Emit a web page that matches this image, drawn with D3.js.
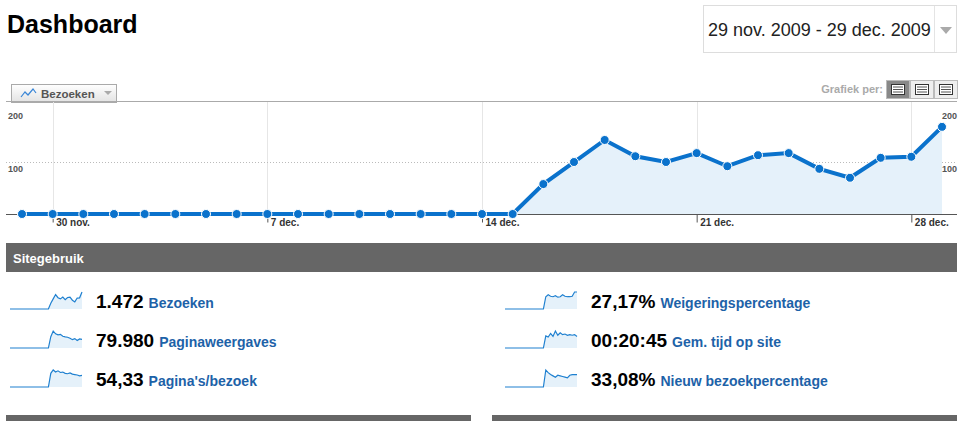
<!DOCTYPE html>
<html>
<head>
<meta charset="utf-8">
<script src="https://cdn.jsdelivr.net/npm/d3@7"></script>
<style>
  body { margin: 0; background: #fff; font-family: Arial, "Liberation Sans", sans-serif; }
  svg { display: block; }
</style>
</head>
<body>
<svg id="chart" width="965" height="421"></svg>
<script>
// daily visits, 29 nov - 29 dec 2009
const days = d3.range(31).map((i) => new Date(2009, 10, 29 + i));
const visits = [0, 0, 0, 0, 0, 0, 0, 0, 0, 0, 0, 0, 0, 0, 0, 0, 0,
  57, 99, 141, 110, 99, 116, 91, 112, 116, 86, 69, 107, 109, 166];
const yTicks = [100, 200];
const weekTicks = [new Date(2009, 10, 30), new Date(2009, 11, 7), new Date(2009, 11, 14),
  new Date(2009, 11, 21), new Date(2009, 11, 28)];
const monthNames = ["jan.", "feb.", "mrt.", "apr.", "mei", "jun.", "jul.", "aug.", "sep.", "okt.", "nov.", "dec."];

// sparkline series (relative shapes)
const sparkPageviews = [0,0,0,0,0,0,0,0,0,0,0,0,0,0,0,0,0, 6500,9800,8200,7600,7900,6800,6400,6200,5600,4800,5400,4300,5200,5000];
const sparkPerVisit = [0,0,0,0,0,0,0,0,0,0,0,0,0,0,0,0,0, 66,82,72,78,70,72,66,64,68,62,60,58,54,56];
const sparkBounce = [0,0,0,0,0,0,0,0,0,0,0,0,0,0,0,0,0, 26,30,27,26,28,25,26,30,27,26,26,27,36,36];
const sparkTime = [0,0,0,0,0,0,0,0,0,0,0,0,0,0,0,0,0, 20,18,24,19,28,21,25,22,23,21,22,21,22,19];
const sparkNew = [0,0,0,0,0,0,0,0,0,0,0,0,0,0,0,0,0, 52,44,38,34,30,36,34,32,30,28,36,38,38,38];

const metrics = [
  { value: "1.472", label: "Bezoeken", data: visits, col: 0 },
  { value: "79.980", label: "Paginaweergaves", data: sparkPageviews, col: 0 },
  { value: "54,33", label: "Pagina's/bezoek", data: sparkPerVisit, col: 0 },
  { value: "27,17%", label: "Weigeringspercentage", data: sparkBounce, col: 1 },
  { value: "00:20:45", label: "Gem. tijd op site", data: sparkTime, col: 1 },
  { value: "33,08%", label: "Nieuw bezoekpercentage", data: sparkNew, col: 1 },
];

const svg = d3.select("#chart");
const blue = "#0a72cc";

// title + date range
svg.append("text").attr("x", 7).attr("y", 33).attr("font-size", 25).attr("font-weight", "bold")
  .attr("fill", "#000").text("Dashboard");
svg.append("rect").attr("x", 703.5).attr("y", 5.5).attr("width", 253).attr("height", 47)
  .attr("fill", "#fff").attr("stroke", "#ddd");
svg.append("line").attr("x1", 934.5).attr("x2", 934.5).attr("y1", 6).attr("y2", 52).attr("stroke", "#e4e4e4");
svg.append("text").attr("x", 708).attr("y", 36).attr("font-size", 18).attr("fill", "#222")
  .text("29 nov. 2009 - 29 dec. 2009");
svg.append("path").attr("d", "M940,27 L952,27 L946,34 Z").attr("fill", "#aaa");

// tab
const tabGrad = svg.append("defs").append("linearGradient").attr("id", "tabg").attr("x1", 0).attr("x2", 0).attr("y1", 0).attr("y2", 1);
tabGrad.append("stop").attr("offset", 0).attr("stop-color", "#fff");
tabGrad.append("stop").attr("offset", 1).attr("stop-color", "#e2e2e2");
svg.append("rect").attr("x", 11.5).attr("y", 84.5).attr("width", 105).attr("height", 18)
  .attr("fill", "url(#tabg)").attr("stroke", "#aaa");
svg.append("path").attr("d", "M21,97 L25,92 L28,95 L33,89 L36,93").attr("fill", "none").attr("stroke", "#3a86d6").attr("stroke-width", 1.2);
svg.append("text").attr("x", 41).attr("y", 98).attr("font-size", 11.5).attr("font-weight", "bold").attr("fill", "#555").text("Bezoeken");
svg.append("path").attr("d", "M104,91 L112,91 L108,95 Z").attr("fill", "#aaa");

// grafiek per
svg.append("text").attr("x", 883).attr("y", 93).attr("text-anchor", "end").attr("font-size", 11)
  .attr("font-weight", "bold").attr("fill", "#aaa").text("Grafiek per:");
[0, 1, 2].forEach((i) => {
  const x0 = 886 + i * 24;
  svg.append("rect").attr("x", x0 + 0.5).attr("y", 80.5).attr("width", 23).attr("height", 18)
    .attr("fill", i === 0 ? "#888" : "#eee").attr("stroke", "#bbb");
  svg.append("rect").attr("x", x0 + 5.5).attr("y", 84.5).attr("width", 13).attr("height", 10)
    .attr("fill", "#fff").attr("stroke", "#333");
  d3.range(3).forEach((k) => svg.append("line").attr("x1", x0 + 7).attr("x2", x0 + 17)
    .attr("y1", 87 + k * 2.5).attr("y2", 87 + k * 2.5).attr("stroke", "#555"));
});

// main chart
const x = d3.scaleTime().domain([days[0], days[30]]).range([22, 942]);
const y = d3.scaleLinear().domain([0, 200]).range([214, 109]);

svg.append("line").attr("x1", 6).attr("x2", 957).attr("y1", 101.5).attr("y2", 101.5).attr("stroke", "#aaa");
svg.selectAll(".vgrid").data(weekTicks).join("line")
  .attr("x1", (d) => Math.round(x(d)) + 0.5).attr("x2", (d) => Math.round(x(d)) + 0.5)
  .attr("y1", 102).attr("y2", 214).attr("stroke", "#e6e6e6");
svg.selectAll(".hgrid").data([100]).join("line")
  .attr("x1", 6).attr("x2", 957).attr("y1", (d) => Math.round(y(d)) + 0.5).attr("y2", (d) => Math.round(y(d)) + 0.5)
  .attr("stroke", "#bbb").attr("stroke-dasharray", "1,2");

svg.append("path").datum(visits)
  .attr("d", d3.area().x((d, i) => x(days[i])).y0(y(0)).y1((d) => y(d)))
  .attr("fill", "#e5f1fa");

const xAxis = svg.append("g").attr("transform", `translate(0,${214.5})`)
  .call(d3.axisBottom(x).tickValues(weekTicks).tickSize(0).tickPadding(0)
    .tickFormat((d) => `${d.getDate()} ${monthNames[d.getMonth()]}`));
xAxis.select(".domain").remove();
xAxis.append("line").attr("x1", 6).attr("x2", 957).attr("stroke", "#555");
xAxis.selectAll(".tick line").remove();
xAxis.selectAll(".tick").append("line").attr("y1", 0).attr("y2", 8).attr("stroke", "#555");
xAxis.selectAll(".tick text").attr("text-anchor", "start").attr("x", 3).attr("y", 4).attr("dy", "0.71em")
  .attr("font-size", 10).attr("font-weight", "bold").attr("fill", "#333").attr("font-family", "Arial, sans-serif");

[["left", 8, "start"], ["right", 957, "end"]].forEach(([side, px, anchor]) => {
  svg.selectAll(".yl-" + side).data(yTicks).join("text")
    .attr("x", px).attr("y", (d) => y(d) + 10).attr("text-anchor", anchor)
    .attr("font-size", 9).attr("font-weight", "bold").attr("fill", "#555").text((d) => d);
});

svg.append("path").datum(visits)
  .attr("d", d3.line().x((d, i) => x(days[i])).y((d) => y(d)))
  .attr("fill", "none").attr("stroke", blue).attr("stroke-width", 4);
svg.selectAll(".dot").data(visits).join("circle")
  .attr("cx", (d, i) => x(days[i])).attr("cy", (d) => y(d)).attr("r", 4.5)
  .attr("fill", blue).attr("stroke", "#fff").attr("stroke-width", 1);

// Sitegebruik
svg.append("rect").attr("x", 6).attr("y", 243).attr("width", 951).attr("height", 29).attr("fill", "#666");
svg.append("text").attr("x", 13).attr("y", 263).attr("font-size", 13).attr("font-weight", "bold")
  .attr("fill", "#fff").text("Sitegebruik");

metrics.forEach((m, i) => {
  const row = i % 3;
  const x0 = m.col === 0 ? 10 : 505;
  const cy = 301 + row * 39;
  const sx = d3.scaleLinear().domain([0, m.data.length - 1]).range([x0, x0 + 72]);
  const sy = d3.scaleLinear().domain([0, d3.max(m.data)]).range([cy + 8, cy - 9]);
  svg.append("path").datum(m.data)
    .attr("d", d3.area().x((d, k) => sx(k)).y0(cy + 8).y1((d) => sy(d)))
    .attr("fill", "#e5f1fa");
  svg.append("path").datum(m.data)
    .attr("d", d3.line().x((d, k) => sx(k)).y((d) => sy(d)))
    .attr("fill", "none").attr("stroke", "#1f80d0").attr("stroke-width", 1.2);
  const t = svg.append("text").attr("x", x0 + 86).attr("y", cy + 7);
  t.append("tspan").attr("font-size", 19).attr("font-weight", "bold").attr("fill", "#000").text(m.value);
  t.append("tspan").attr("dx", 5).attr("font-size", 14).attr("font-weight", "bold").attr("fill", "#1d62a8").text(m.label);
});

svg.append("rect").attr("x", 6).attr("y", 415).attr("width", 465).attr("height", 6).attr("fill", "#666");
svg.append("rect").attr("x", 492).attr("y", 415).attr("width", 465).attr("height", 6).attr("fill", "#666");
</script>
</body>
</html>
